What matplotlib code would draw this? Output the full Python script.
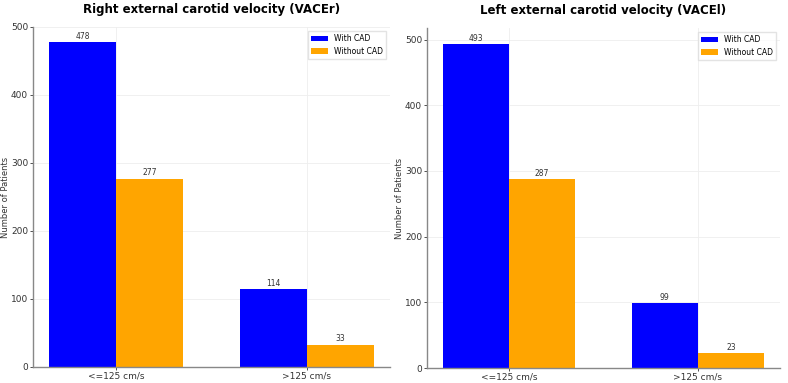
import matplotlib.pyplot as plt
import numpy as np

categories = ['<=125 cm/s', '>125 cm/s']
right_with = [478, 114]
right_without = [277, 33]
left_with = [493, 99]
left_without = [287, 23]
titles = ['Right external carotid velocity (VACEr)', 'Left external carotid velocity (VACEl)']

fig = plt.figure(figsize=(7.88, 3.83), dpi=100)
ax1 = fig.add_axes([33 / 788, 16 / 383, 357 / 788, 340 / 383])
ax2 = fig.add_axes([427 / 788, 15 / 383, 353 / 788, 340 / 383])

x = np.arange(len(categories))
w = 0.35

for ax, title, with_cad, without_cad in [(ax1, titles[0], right_with, right_without),
                                         (ax2, titles[1], left_with, left_without)]:
    b1 = ax.bar(x - w / 2, with_cad, w, color='blue', label='With CAD', zorder=2)
    b2 = ax.bar(x + w / 2, without_cad, w, color='orange', label='Without CAD', zorder=2)
    ax.bar_label(b1, fontsize=5.5, color='#333333', padding=1)
    ax.bar_label(b2, fontsize=5.5, color='#333333', padding=1)
    ax.set_xticks(x)
    ax.set_xticklabels(categories)
    ax.set_title(title, fontsize=8.5, fontweight='bold', pad=10)
    ax.set_ylabel('Number of Patients', fontsize=6, color='#333333')
    ax.yaxis.set_label_coords(-0.065, 0.5)
    ax.tick_params(labelsize=6.5, colors='#333333', length=2, width=0.6, pad=1.5)
    ax.grid(True, color='#eeeeee', linewidth=0.6, zorder=0)
    for s in ['top', 'right']:
        ax.spines[s].set_visible(False)
    for s in ['left', 'bottom']:
        ax.spines[s].set_color('#888888')
        ax.spines[s].set_linewidth(1.0)
    ax.legend(loc='upper right', fontsize=5.5, frameon=True, fancybox=False,
              edgecolor='#dddddd', handlelength=2.2)

ax1.set_ylim(0, 500)

plt.savefig('out.png', dpi=100)
